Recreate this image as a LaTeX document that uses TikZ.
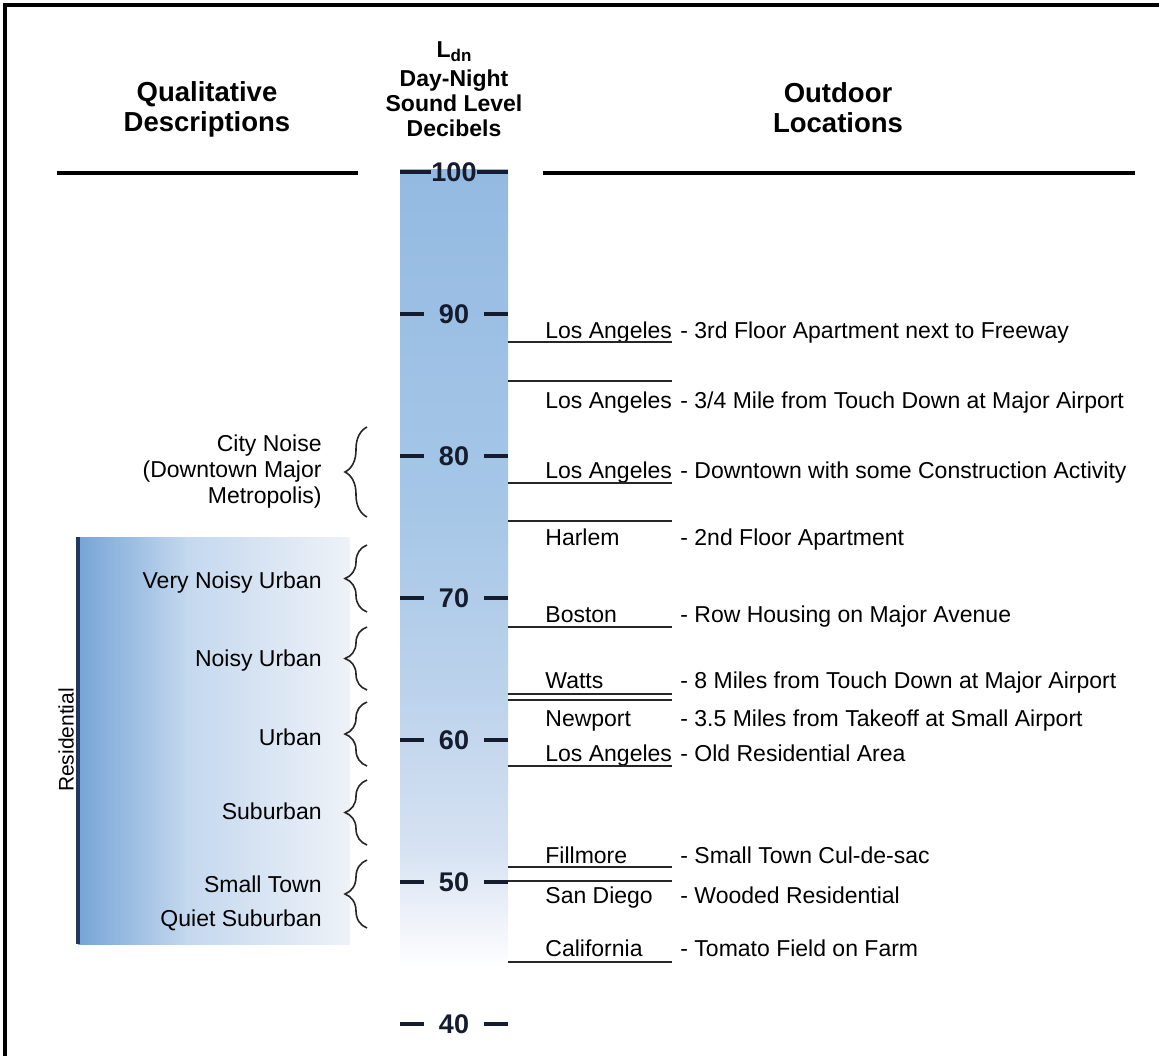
\documentclass[tikz,border=0pt]{standalone}
\usepackage{fontspec}
\setmainfont{Liberation Sans}
\usetikzlibrary{decorations.pathreplacing}
\definecolor{cA}{RGB}{148,186,226}
\definecolor{cB}{RGB}{165,198,231}
\definecolor{cC}{RGB}{188,210,236}
\definecolor{cD}{RGB}{214,226,242}
\definecolor{cE}{RGB}{238,242,249}
\definecolor{resL}{RGB}{118,164,215}
\definecolor{resM}{RGB}{196,216,238}
\definecolor{resR}{RGB}{238,242,248}
\definecolor{resline}{RGB}{35,55,95}
\definecolor{numcol}{RGB}{20,28,45}
\pgfdeclareverticalshading{colfade}{100bp}{color(0bp)=(white); color(25bp)=(white); color(29bp)=(white); color(32bp)=(cE); color(36bp)=(cD); color(45bp)=(cC); color(56bp)=(cB); color(75bp)=(cA); color(100bp)=(cA)}
\pgfdeclarehorizontalshading{resfade}{100bp}{color(0bp)=(resL); color(25bp)=(resL); color(45bp)=(resM); color(75bp)=(resR); color(100bp)=(resR)}
\begin{document}
\begin{tikzpicture}[x=0.5pt,y=-0.5pt,
  txt/.style={font=\fontsize{11.5}{13}\selectfont, inner sep=0pt},
  ltxt/.style={font=\fontsize{11.5}{13}\selectfont, inner sep=0pt, align=right, anchor=east},
  hdr/.style={font=\fontsize{13.75}{15}\selectfont\bfseries, align=center, inner sep=0pt},
  chdr/.style={font=\fontsize{11.5}{12.5}\selectfont\bfseries, align=center, inner sep=0pt},
  num/.style={font=\fontsize{13.5}{15}\selectfont\bfseries, inner sep=0pt, text=numcol},
  tickline/.style={line width=2pt, draw=numcol},
  uline/.style={line width=0.75pt, draw=black!85},
  rulestyle/.style={line width=2pt, draw=black},
  bracestyle/.style={decorate, decoration={brace, amplitude=11pt}, line width=0.8pt, draw=black!85}
]
\useasboundingbox (0,0) rectangle (1159,1056);
% frame
\draw[line width=1.6pt] (5,1056) -- (5,5) -- (1159,5);
% headers
\node[hdr] (hq) at (207,109) {Qualitative\\Descriptions};
\node[chdr] (hl) at (454,52) {L\raisebox{-0.35ex}{\fontsize{8.5}{9}\selectfont dn}};
\node[chdr] (hd) at (454,103) {Day-Night\\Sound Level\\Decibels};
\node[hdr] (ho) at (838,108) {Outdoor\\Locations};
% residential bar
\shade[shading=resfade] (78,537) rectangle (350,944);
\draw[line width=1.6pt, draw=resline] (78,537) -- (78,944);
\node[font=\fontsize{10.5}{12}\selectfont, rotate=90, inner sep=0pt] (res) at (66,740) {Residential};
% column
\shade[shading=colfade] (400,169) rectangle (508,1040);
% header rules
\draw[rulestyle] (57,173) -- (358,173);
\draw[rulestyle] (543,173) -- (1135,173);
% ticks
\node[num] (t100) at (454,172) {100};
\draw[tickline] (400,172) -- (t100.west);
\draw[tickline] (t100.east) -- (508,172);
\foreach \v/\yy in {90/314,80/456,70/598,60/740,50/882,40/1024}{
  \node[num] (t\v) at (454,\yy) {\v};
  \draw[tickline] (400,\yy) -- (424,\yy);
  \draw[tickline] (484,\yy) -- (508,\yy);
}
% left descriptions and braces
\node[ltxt] (q1) at (322,472) {City Noise\\(Downtown Major\\Metropolis)};
\draw[bracestyle] (367,517) -- (367,427);
\node[ltxt] (q2) at (322,583) {Very Noisy Urban};
\draw[bracestyle] (367,612) -- (367,545);
\node[ltxt] (q3) at (322,661) {Noisy Urban};
\draw[bracestyle] (367,690) -- (367,627);
\node[ltxt] (q4) at (322,737) {Urban};
\draw[bracestyle] (367,766) -- (367,702);
\node[ltxt] (q5) at (322,811) {Suburban};
\draw[bracestyle] (367,845) -- (367,780);
\node[ltxt, font=\fontsize{11.5}{17}\selectfont] (q6) at (322,903) {Small Town\\Quiet Suburban};
\draw[bracestyle] (367,928) -- (367,860);
% right side locations
\foreach \nm/\yy/\place/\desc in {
  a/338/{Los Angeles}/{- 3rd Floor Apartment next to Freeway},
  b/408/{Los Angeles}/{- 3/4 Mile from Touch Down at Major Airport},
  c/478/{Los Angeles}/{- Downtown with some Construction Activity},
  d/545/{Harlem}/{- 2nd Floor Apartment},
  e/622/{Boston}/{- Row Housing on Major Avenue},
  f/688/{Watts}/{- 8 Miles from Touch Down at Major Airport},
  g/726/{Newport}/{- 3.5 Miles from Takeoff at Small Airport},
  h/761/{Los Angeles}/{- Old Residential Area},
  i/863/{Fillmore}/{- Small Town Cul-de-sac},
  j/903/{San Diego}/{- Wooded Residential},
  k/956/{California}/{- Tomato Field on Farm}}{
  \node[txt, anchor=base west] (p\nm) at (545,\yy) {\place};
  \node[txt, anchor=base west] (d\nm) at (680,\yy) {\desc};
}
% underlines
\foreach \yy in {342,381,483,521,627,694,700,766,867,881,962}{
  \draw[uline] (508,\yy) -- (672,\yy);
}
\end{tikzpicture}
\end{document}
